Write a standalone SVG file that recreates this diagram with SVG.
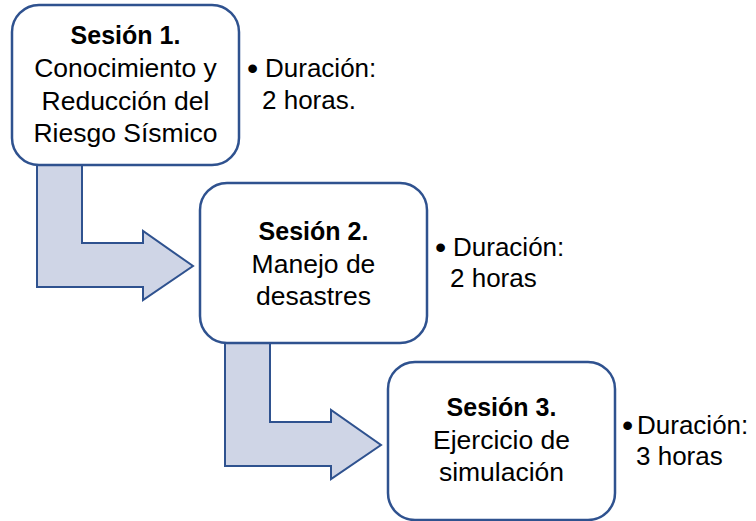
<svg xmlns="http://www.w3.org/2000/svg" width="756" height="521" viewBox="0 0 756 521">
<style>
.box{fill:#ffffff;stroke:#2F528F;stroke-width:2.5}
.arr{fill:#CFD5E6;stroke:#2F528F;stroke-width:2;stroke-linejoin:miter}
text{font-family:"Liberation Sans",Arial,sans-serif;fill:#000000}
.t{font-size:26.5px;text-anchor:middle}
.b{font-size:25px;font-weight:bold;text-anchor:middle}
.d{font-size:26px}
.bl{font-size:32px}
</style>
<rect width="756" height="521" fill="#ffffff"/>
<g id="connectors">
<polygon class="arr" points="37,160 82,160 82,243 143,243 143,231 193,266 143,300 143,287 37,287"/>
<polygon class="arr" points="225,339 270,339 270,422 331,422 331,410 381,445 331,479 331,466 225,466"/>
</g>
<g id="session1">
<rect class="box" x="12" y="5" width="227" height="160" rx="27"/>
<text class="b" x="125.5" y="44">Sesión 1.</text>
<text class="t" x="125.5" y="77">Conocimiento y</text>
<text class="t" x="125.5" y="110">Reducción del</text>
<text class="t" x="125.5" y="142">Riesgo Sísmico</text>
</g>
<g id="duration1">
<text class="d" y="77"><tspan class="bl" x="247" dy="2">•</tspan><tspan x="265" dy="-2">Duración:</tspan></text>
<text class="d" x="262" y="109">2 horas.</text>
</g>
<g id="session2">
<rect class="box" x="200" y="183" width="227" height="160" rx="27"/>
<text class="b" x="313.5" y="240">Sesión 2.</text>
<text class="t" x="313.5" y="273">Manejo de</text>
<text class="t" x="313.5" y="305">desastres</text>
</g>
<g id="duration2">
<text class="d" y="256"><tspan class="bl" x="435" dy="2">•</tspan><tspan x="453" dy="-2">Duración:</tspan></text>
<text class="d" x="450" y="287">2 horas</text>
</g>
<g id="session3">
<rect class="box" x="388" y="362" width="227" height="158" rx="27"/>
<text class="b" x="501.5" y="416">Sesión 3.</text>
<text class="t" x="501.5" y="449">Ejercicio de</text>
<text class="t" x="501.5" y="481">simulación</text>
</g>
<g id="duration3">
<text class="d" y="434"><tspan class="bl" x="622" dy="2">•</tspan><tspan x="637" dy="-2">Duración:</tspan></text>
<text class="d" x="636" y="465">3 horas</text>
</g>
</svg>
